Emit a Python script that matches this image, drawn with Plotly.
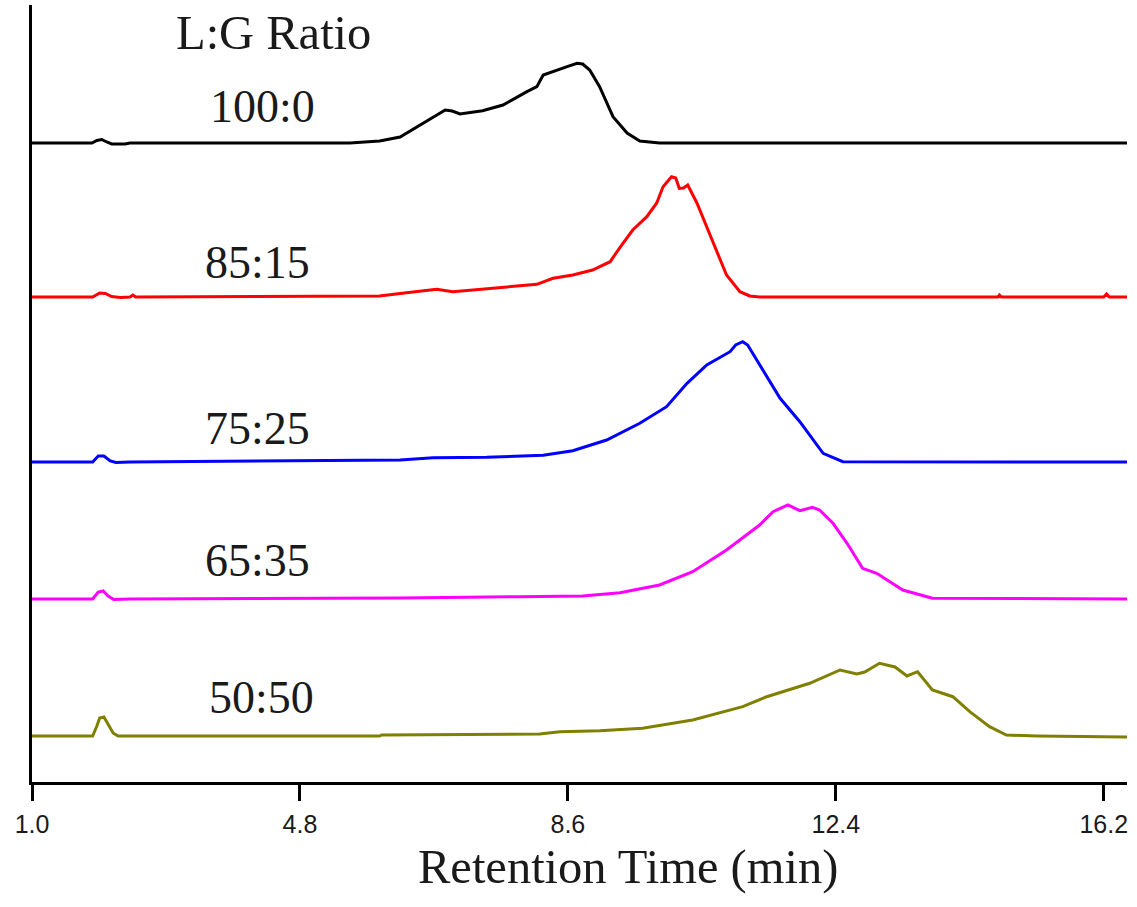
import plotly.graph_objects as go

# ---- data (retention time in min, detector signal in arbitrary units above each trace's baseline) ----
t_100_0 = [1.00, 1.85, 1.92, 1.99, 2.06, 2.13, 2.32, 2.39, 5.51, 5.65, 5.93, 6.22, 6.45, 6.69, 6.86, 6.96, 7.07,
           7.39, 7.68, 8.02, 8.16, 8.25, 8.44, 8.59, 8.73, 8.81, 8.91, 9.05, 9.24, 9.44, 9.62, 9.90, 16.53]
s_100_0 = [0, 0, 2.5, 3.5, 1, -1, -1, 0, 0, 0.5, 2, 6, 15.7, 26.3, 33, 32, 29,
           32.3, 38, 51.3, 56.3, 68, 73, 76.3, 79.7, 79, 73, 56.3, 26.3, 10, 2, 0, 0]

t_85_15 = [1.00, 1.86, 1.96, 2.04, 2.13, 2.25, 2.39, 2.43, 2.47, 5.93, 6.31, 6.74, 6.97, 7.35, 7.73, 8.16, 8.39,
           8.67, 8.95, 9.20, 9.34, 9.52, 9.72, 9.86, 9.95, 10.07, 10.13, 10.18, 10.24, 10.30, 10.43, 10.57,
           10.71, 10.85, 11.04, 11.18, 11.32, 14.70, 14.72, 14.75, 16.20, 16.24, 16.28, 16.53]
s_85_15 = [0, 0, 4, 3.5, 0.5, -0.5, 0, 2, 0, 1, 4.3, 7.7, 5.3, 7.7, 10.3, 12.7, 18.7,
           22, 27, 35.3, 49.7, 67, 80.3, 94, 110.3, 120.3, 119, 108.7, 109, 112, 94, 70.3,
           45.3, 22, 5.3, 1, 0, 0, 2, 0, 0, 3, 0, 0]

t_75_25 = [1.00, 1.86, 1.94, 2.02, 2.11, 2.19, 2.39, 6.22, 6.69, 7.45, 8.25, 8.67, 9.15, 9.62, 10.00, 10.29,
           10.57, 10.90, 10.98, 11.08, 11.15, 11.22, 11.42, 11.61, 11.89, 12.22, 12.50, 16.53]
s_75_25 = [0, 0, 6, 6, 1, -0.5, 0, 2, 4.3, 4.7, 6.7, 11.3, 22, 38.7, 55.3, 78.7,
           97, 110.3, 117, 120.3, 117, 108.7, 85.3, 63.7, 40.3, 8.7, 0.3, 0]

t_65_35 = [1.00, 1.86, 1.94, 2.01, 2.08, 2.16, 2.39, 6.22, 7.92, 8.81, 9.34, 9.90, 10.37, 10.85, 11.32, 11.51,
           11.72, 11.89, 12.07, 12.17, 12.36, 12.56, 12.78, 12.98, 13.35, 13.77, 16.53]
s_65_35 = [0, 0, 7, 8, 3, -0.5, 0, 1, 2.3, 3, 6.3, 14, 27.3, 49, 74, 87.3,
           94, 88.3, 91.7, 89, 75.7, 55.7, 30.7, 25.7, 9, 0.7, 0]

t_50_50 = [1.00, 1.86, 1.92, 1.96, 2.02, 2.08, 2.15, 2.22, 5.93, 5.96, 8.20, 8.49, 9.05, 9.66, 10.37, 11.08,
           11.42, 12.03, 12.46, 12.70, 12.81, 13.02, 13.24, 13.41, 13.56, 13.77, 14.06, 14.30, 14.58, 14.82,
           15.25, 16.53]
s_50_50 = [0, 0, 10, 18, 19, 12, 3, 0, 0, 1, 2, 4.3, 5.3, 7.7, 16, 29.3,
           39.3, 52.7, 66, 62, 64, 72.7, 69, 60, 64.3, 46, 39.3, 24.3, 9.3, 1,
           0, -1]

ratio_labels = ["100:0", "85:15", "75:25", "65:35", "50:50"]
trace_offsets = [639, 485, 320, 183, 46]
trace_colors = ["#000000", "#ff0000", "#0000ff", "#ff00ff", "#808000"]
label_x = [4.27, 4.20, 4.20, 4.20, 4.26]
label_y = [676, 520, 354, 222, 85]

tick_vals = [1.0, 4.8, 8.6, 12.4, 16.2]
tick_text = ["1.0", "4.8", "8.6", "12.4", "16.2"]

times = [t_100_0, t_85_15, t_75_25, t_65_35, t_50_50]
signals = [s_100_0, s_85_15, s_75_25, s_65_35, s_50_50]

fig = go.Figure()
for t, s, off, col, name in zip(times, signals, trace_offsets, trace_colors, ratio_labels):
    fig.add_trace(go.Scatter(x=t, y=[v + off for v in s], mode="lines",
                             line=dict(color=col, width=3), name=name, showlegend=False))

serif = "Liberation Serif, Times New Roman, serif"
annotations = [dict(x=4.43, y=750, xref="x", yref="y", text="L:G Ratio", showarrow=False,
                    font=dict(family=serif, size=48.5, color="#1a1a1a"))]
for lx, ly, txt in zip(label_x, label_y, ratio_labels):
    annotations.append(dict(x=lx, y=ly, xref="x", yref="y", text=txt, showarrow=False,
                            font=dict(family=serif, size=46, color="#1a1a1a")))
annotations.append(dict(x=0.544, y=-0.110, xref="paper", yref="paper", text="Retention Time (min)",
                        showarrow=False, yanchor="middle",
                        font=dict(family=serif, size=48.5, color="#1a1a1a")))

fig.update_layout(
    width=1137, height=907,
    margin=dict(l=32, r=10, t=5, b=125),
    paper_bgcolor="white", plot_bgcolor="white",
    annotations=annotations,
    xaxis=dict(range=[1.0, 16.53], showgrid=False, zeroline=False,
               showline=True, linecolor="#000000", linewidth=3,
               ticks="outside", ticklen=16, tickwidth=3, tickcolor="#000000",
               tickvals=tick_vals, ticktext=tick_text, ticklabelstandoff=2,
               tickfont=dict(family="Liberation Sans, Arial, sans-serif", size=25, color="#1a1a1a")),
    yaxis=dict(range=[0, 777], showgrid=False, zeroline=False,
               showline=True, linecolor="#000000", linewidth=3,
               ticks="", showticklabels=False),
)

fig.write_html("out.html", config={"displayModeBar": False},
               post_script="document.body.style.margin='0px';document.body.style.overflow='hidden';")
